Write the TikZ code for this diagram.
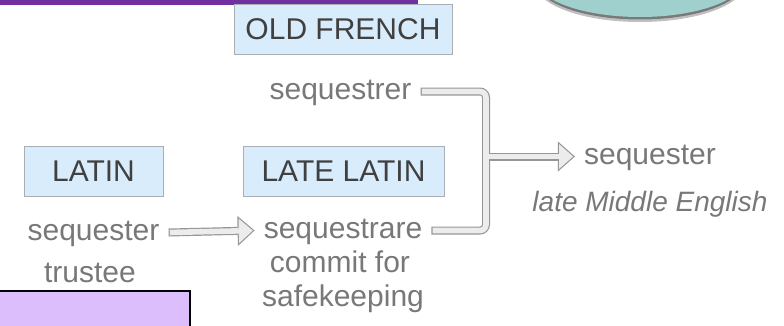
\documentclass[tikz,border=0pt]{standalone}
\usepackage{fontspec}
\setmainfont{Liberation Sans}
\usetikzlibrary{arrows.meta}
\definecolor{lang-blue}{RGB}{216,236,252}
\definecolor{lang-edge}{RGB}{168,174,180}
\definecolor{pipe-edge}{RGB}{150,150,150}
\definecolor{pipe-fill}{RGB}{236,236,236}
\definecolor{word-gray}{RGB}{120,120,120}
\definecolor{bar-purple}{RGB}{112,48,160}
\definecolor{note-purple}{RGB}{220,190,252}
\definecolor{disc-teal}{RGB}{159,208,206}
\tikzstyle{pixels}=[x=1pt, y=-1pt]
\tikzstyle{langbox}=[draw=lang-edge, fill=lang-blue, line width=1pt, minimum height=50pt, inner sep=0pt, text=black!75, font=\fontsize{30}{30}\selectfont]
\tikzstyle{word}=[anchor=base, text=word-gray, inner xsep=9pt, inner ysep=0pt, text height=21pt, text depth=6pt, font=\fontsize{30}{30}\selectfont]
\tikzstyle{pipe}=[draw=pipe-edge, line width=8pt, rounded corners=6pt, postaction={draw=pipe-fill, line width=5.6pt, shorten <=1.2pt, shorten >=1.2pt}]
\tikzset{hollowarrow/.style={draw=pipe-edge, line width=8pt, -{Triangle[length=17pt,width=30pt,line width=0pt]},
    postaction={draw=pipe-fill, line width=5.6pt, shorten <=#1, shorten >=1.8pt, -{Triangle[length=14pt,width=24.7pt,line width=0pt]}}},
  hollowarrow/.default=1.2pt}

\begin{document}
\begin{tikzpicture}[pixels]
	\useasboundingbox (0,0) rectangle (784,325);
	\clip (0,0) rectangle (784,325);
	\fill[black, opacity=.25] (640,-17) ellipse [x radius=105, y radius=39];
	\fill[black!70, opacity=.6] (640,-19.5) ellipse [x radius=105, y radius=39];
	\fill[disc-teal] (640,-22) ellipse [x radius=105, y radius=39];
	\fill[bar-purple] (0,0) rectangle (418,5);
	\filldraw[note-purple, draw=black, line width=2.5pt] (-5,291) rectangle (190,335);
	\node[langbox, minimum width=218pt] (oldfr) at (343,29.5) {OLD FRENCH};
	\node[langbox, minimum width=139pt] (latin) at (93.5,171) {LATIN};
	\node[langbox, minimum width=201pt] (latelatin) at (343.5,171) {LATE LATIN};
	\node[word] (oldword) at (340.5,99) {sequestrer};
	\node[word] (latword) at (93.5,240) {sequester};
	\node[word] (latgloss) at (90,282) {trustee};
	\node[word] (lateword) at (343,238) {sequestrare};
	\node[word] (lategloss) at (340,272) {commit for};
	\node[word] (lategloss2) at (343,306) {safekeeping};
	\node[word] (newword) at (650,164) {sequester};
	\node[word, font=\fontsize{28}{28}\selectfont\itshape] (newgloss) at (650,211) {late Middle English};
	\coordinate (bend) at (486,0 |- newword.west);
	\draw[pipe] (oldword.east) -| (bend) |- (lateword.east);
	\draw[hollowarrow] (latword.east) -- (lateword.west);
	\draw[hollowarrow=0pt] ([xshift=2.8pt]bend) -- (newword.west);
\end{tikzpicture}
\end{document}
